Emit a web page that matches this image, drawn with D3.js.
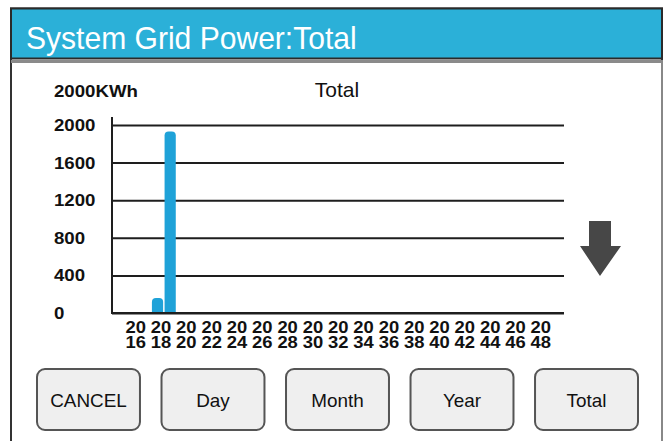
<!DOCTYPE html>
<html><head><meta charset="utf-8">
<script src="https://cdn.jsdelivr.net/npm/d3@7"></script>
<style>body{margin:0;background:#fff}svg{display:block}</style>
</head><body>
<svg id="c" width="665" height="441"></svg>
<script>
// ---- data ----
const pageTitle = "System Grid Power:Total";
const chartTitle = "Total";
const unitLabel = "2000KWh";
const barYears = [2018, 2019];
const barValues = [160, 1930];
const yTicks = [0, 400, 800, 1200, 1600, 2000];
const xTickYears = [2016,2018,2020,2022,2024,2026,2028,2030,2032,2034,2036,2038,2040,2042,2044,2046,2048];
const allYears = d3.range(2016, 2049);
const buttons = ["CANCEL", "Day", "Month", "Year", "Total"];

const svg = d3.select("#c");
const FONT = "'Liberation Sans', Arial, sans-serif";
const SX = 1.13; // horizontal stretch of small labels

// ---- frame ----
svg.append("rect").attr("x", 11).attr("y", 8.5).attr("width", 651).attr("height", 450)
  .attr("fill", "#fff").attr("stroke", "#333").attr("stroke-width", 2);
svg.append("rect").attr("x", 661).attr("y", 60).attr("width", 2).attr("height", 390).attr("fill", "#888");
svg.append("rect").attr("x", 11).attr("y", 8.5).attr("width", 651).attr("height", 50)
  .attr("fill", "#2bb0d8").attr("stroke", "#2a2a2a").attr("stroke-width", 2);
svg.append("rect").attr("x", 11).attr("y", 60).attr("width", 651).attr("height", 3).attr("fill", "#8a8a8a");
svg.append("text").attr("transform", "translate(26,48.5) scale(0.97,1.04)").attr("fill", "#fff")
  .attr("font-family", FONT).attr("font-size", 31).text(pageTitle);

// ---- scales ----
const x = d3.scaleBand().domain(allYears).range([130, 546.5]).paddingInner(0.1).paddingOuter(0);
const y = d3.scaleLinear().domain([0, 2000]).range([313, 125]);
const barShift = -3.5;

// gridlines via axis
const gAxisY = svg.append("g").attr("transform", "translate(112,0)")
  .call(d3.axisRight(y).tickValues(yTicks).tickSize(452).tickFormat(""));
gAxisY.select(".domain").remove();
gAxisY.selectAll("line").attr("stroke", "#1e1e1e").attr("stroke-width", 2);

// y axis line
svg.append("line").attr("x1", 112).attr("x2", 112).attr("y1", 117).attr("y2", y(0) + 1)
  .attr("stroke", "#1e1e1e").attr("stroke-width", 2);

// y tick labels
svg.append("g").selectAll("text").data(yTicks).join("text")
  .attr("transform", d => `translate(54,${y(d) + 6}) scale(${SX},1)`)
  .attr("font-family", FONT).attr("font-size", 16.5).attr("font-weight", "bold").attr("fill", "#111")
  .text(d => d);

svg.append("text").attr("transform", `translate(54,96.5) scale(${SX},1)`)
  .attr("font-family", FONT).attr("font-size", 16.5).attr("font-weight", "bold").attr("fill", "#111")
  .text(unitLabel);

svg.append("text").attr("x", 337).attr("y", 97).attr("text-anchor", "middle")
  .attr("font-family", FONT).attr("font-size", 21).attr("fill", "#111").text(chartTitle);

// x tick labels (two rows in one text)
const xl = svg.append("g").selectAll("text").data(xTickYears).join("text")
  .attr("transform", d => `translate(${x(d) + x.bandwidth() / 2},333.3) scale(${SX},1)`)
  .attr("text-anchor", "middle")
  .attr("font-family", FONT).attr("font-size", 16.3).attr("font-weight", "bold").attr("fill", "#111");
xl.append("tspan").attr("x", 0).attr("y", 0).text(d => String(d).slice(0, 2));
xl.append("tspan").attr("x", 0).attr("y", 15.2).text(d => String(d).slice(2));

// bars with rounded tops
const bw = 11.2;
function barPath(cx, top, bottom, r) {
  const l = cx - bw / 2, rr = cx + bw / 2;
  r = Math.min(r, (bottom - top));
  return `M${l},${bottom}V${top + r}Q${l},${top} ${l + r},${top}H${rr - r}Q${rr},${top} ${rr},${top + r}V${bottom}Z`;
}
svg.append("g").selectAll("path").data(barYears.map((yr, i) => ({yr, v: barValues[i]}))).join("path")
  .attr("d", d => barPath(x(d.yr) + x.bandwidth() / 2 + barShift, y(d.v), y(0), 4))
  .attr("fill", "#1fa2d8");

// x baseline
svg.append("line").attr("x1", 111).attr("x2", 564).attr("y1", y(0)).attr("y2", y(0))
  .attr("stroke", "#1e1e1e").attr("stroke-width", 2);

// down arrow
svg.append("path").attr("d", "M589,221H611V246H621L600,276L580,246H589Z").attr("fill", "#474747");

// buttons
const bx = d3.scaleBand().domain(buttons).range([37, 638]).paddingInner(0.173).paddingOuter(0);
const bg = svg.append("g").selectAll("g").data(buttons).join("g")
  .attr("transform", d => `translate(${bx(d)},369)`);
bg.append("rect").attr("width", bx.bandwidth()).attr("height", 61).attr("rx", 8)
  .attr("fill", "#efefef").attr("stroke", "#555").attr("stroke-width", 2);
bg.append("text").attr("transform", `translate(${bx.bandwidth() / 2},37.5) scale(1.05,1)`)
  .attr("text-anchor", "middle").attr("font-family", FONT).attr("font-size", 18).attr("fill", "#111")
  .text(d => d);
</script>
</body></html>
